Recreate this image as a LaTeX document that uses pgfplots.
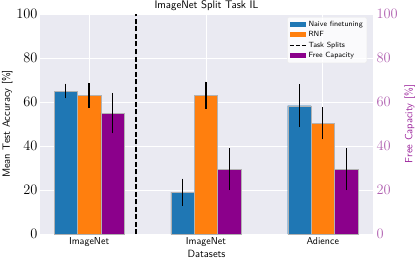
\documentclass[border=0pt]{standalone}
\usepackage{pgfplots}
\pgfplotsset{compat=1.18}
\definecolor{bgc}{HTML}{EAEAF2}
\definecolor{cblue}{HTML}{1F77B4}
\definecolor{corange}{HTML}{FF7F0E}
\definecolor{cpurple}{HTML}{8B008B}
\definecolor{ctick}{HTML}{B060B0}
\begin{document}
\begin{tikzpicture}[font=\sffamily]
\begin{axis}[
 name=main,
 scale only axis, width=333pt, height=220pt,
 xmin=-0.42, xmax=2.43, ymin=0, ymax=100,
 axis background/.style={fill=bgc},
 axis line style={draw=none},
 major tick length=0pt,
 grid=major, grid style={white, line width=0.8pt},
 xtick={0,1,2}, xticklabels={ImageNet,ImageNet,Adience},
 ytick={0,20,...,100},
 x tick label style={font=\sffamily\fontsize{10}{12}\selectfont},
 y tick label style={font=\fontsize{14}{14}\selectfont, xshift=1pt},
 xlabel={Datasets}, ylabel={Mean Test Accuracy [\%]},
 label style={font=\sffamily\fontsize{10.5}{12}\selectfont},
 xlabel style={yshift=3pt},
 ylabel style={yshift=-3pt},
 title={ImageNet Split Task IL},
 every axis title/.style={font=\sffamily\fontsize{11}{13}\selectfont, at={(0.5,1)}, anchor=base, yshift=5pt},
 ybar, bar width=0.2,
 legend image code/.code={\draw[#1, draw=none, fill opacity=1, sharp corners] (0cm,-0.09cm) rectangle (0.56cm,0.09cm);},
 legend style={at={(0.982,0.986)}, anchor=north east,
   font=\sffamily\fontsize{7.5}{9}\selectfont,
   fill=white, fill opacity=0.8, text opacity=1, draw=gray!15, rounded corners=1.5pt,
   row sep=-0.5pt, inner sep=2pt},
 legend cell align=left,
]
\addplot[fill=cblue, draw=gray!60, line width=0.4pt, bar shift=-0.2,
  error bars/.cd, y dir=both, y explicit, error mark=none,
  error bar style={black, line width=1.2pt}]
  coordinates {(0,65) +- (0,3.3) (1,19) +- (0,6.2) (2,58.3) +- (0,9.7)};
\addlegendentry{Naive finetuning}
\addplot[fill=corange, draw=gray!60, line width=0.4pt, bar shift=0,
  error bars/.cd, y dir=both, y explicit, error mark=none,
  error bar style={black, line width=1.2pt}]
  coordinates {(0,62.9) +- (0,5.6) (1,63.1) +- (0,6.2) (2,50.3) +- (0,7.3)};
\addlegendentry{RNF}
\addplot[sharp plot, black, line width=1.6pt, dash pattern=on 5pt off 2.5pt,
  legend image code/.code={\draw[black, line width=1.3pt, dash pattern=on 4pt off 2pt, sharp corners] (0cm,0cm) -- (0.56cm,0cm);}]
  coordinates {(0.4,0) (0.4,100)};
\addlegendentry{Task Splits}
\addplot[fill=cpurple, draw=gray!60, line width=0.4pt, bar shift=0.2,
  error bars/.cd, y dir=both, y explicit, error mark=none,
  error bar style={black, line width=1.2pt}]
  coordinates {(0,54.9) +- (0,9.2) (1,29.5) +- (0,9.5) (2,29.5) +- (0,9.5)};
\addlegendentry{Free Capacity}
\end{axis}
\begin{axis}[
 scale only axis, width=333pt, height=220pt,
 xmin=-0.42, xmax=2.43, ymin=0, ymax=100,
 axis y line*=right, axis x line=none,
 axis line style={draw=none},
 major tick length=0pt,
 ytick={0,20,...,100},
 y tick label style={font=\fontsize{14}{14}\selectfont, color=ctick},
 ylabel={Free Capacity [\%]},
 ylabel style={font=\sffamily\fontsize{10.5}{12}\selectfont, color=cpurple!85},
]
\addplot[draw=none, forget plot] coordinates {(0,0)};
\end{axis}
\pgfresetboundingbox
\path ([shift={(-40pt,-26pt)}]main.south west) rectangle ([shift={(42pt,14pt)}]main.north east);
\end{tikzpicture}
\end{document}
